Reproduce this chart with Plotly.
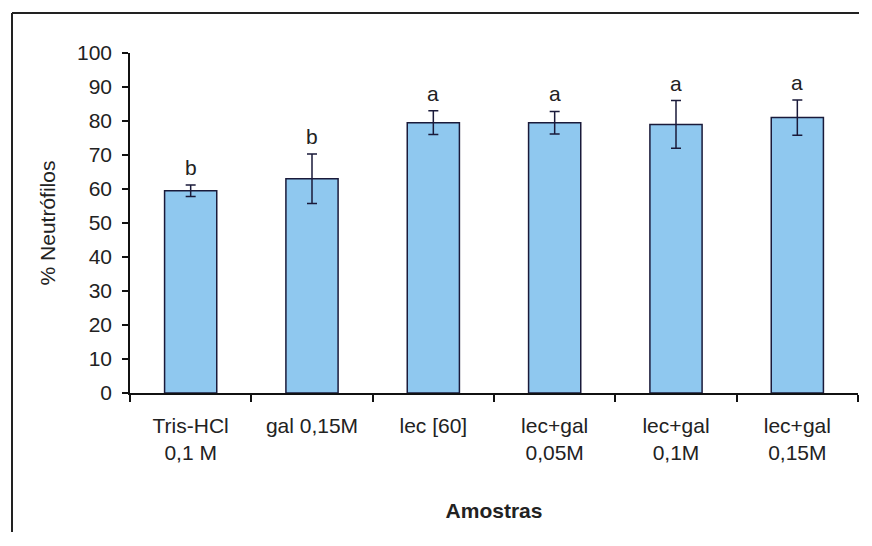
import plotly.graph_objects as go

categories = ["Tris-HCl<br>0,1 M", "gal 0,15M", "lec [60]", "lec+gal<br>0,05M", "lec+gal<br>0,1M", "lec+gal<br>0,15M"]
values = [59.5, 63.0, 79.5, 79.5, 79.0, 81.0]
errors = [1.7, 7.3, 3.5, 3.3, 7.0, 5.2]
letters = ["b", "b", "a", "a", "a", "a"]
y_ticks = [0, 10, 20, 30, 40, 50, 60, 70, 80, 90, 100]

# page body has an 8px margin, so the figure is sized to fit inside the window
W, H = 851, 524
L, R, T, B = 122, 1, 45, 139
pw, ph = W - L - R, H - T - B

FONT = "Liberation Sans, Arial, sans-serif"

fig = go.Figure()
fig.add_trace(go.Bar(
    x=categories, y=values, width=0.43,
    marker=dict(color="#8fc8ef", line=dict(color="#1a1a3a", width=1.5)),
    error_y=dict(type="data", array=errors, visible=True, color="#1a1a3a", thickness=1.5, width=5),
    showlegend=False,
))

for c, v, e, t in zip(categories, values, errors, letters):
    fig.add_annotation(x=c, y=v + e, text=t, showarrow=False, yanchor="bottom", yshift=4,
                       font=dict(family=FONT, size=21, color="#222"))

# outer chart frame: only its left and top edges lie inside the picture
fx0 = (4 - L) / pw
fx1 = (W - L) / pw
fy0 = (H - B - H) / ph
fy1 = (H - B - 5) / ph
frame = dict(type="line", xref="paper", yref="paper", line=dict(color="#222", width=2), layer="below")
fig.add_shape(x0=fx0, x1=fx0, y0=fy0, y1=fy1, **frame)
fig.add_shape(x0=fx0, x1=fx1, y0=fy1, y1=fy1, **frame)

fig.update_layout(
    width=W, height=H,
    margin=dict(l=L, r=R, t=T, b=B),
    paper_bgcolor="white", plot_bgcolor="white",
    font=dict(family=FONT, size=20, color="#222"),
    xaxis=dict(
        type="category", range=[-0.5, 5.5], showline=True, linecolor="#111", linewidth=1.5,
        ticks="outside", tickson="boundaries", ticklen=7, tickcolor="#111", tickwidth=1.5,
        tickfont=dict(family=FONT, size=21, color="#222"), ticklabelstandoff=13,
        showgrid=False, zeroline=False,
        title=dict(text="<b>Amostras</b>", font=dict(family=FONT, size=21, color="#222"), standoff=40),
    ),
    yaxis=dict(
        range=[0, 100], tickvals=y_ticks, showline=True, linecolor="#111", linewidth=1.5,
        ticks="outside", ticklen=6, tickcolor="#111", tickwidth=1.5,
        tickfont=dict(family=FONT, size=21, color="#222"), ticklabelstandoff=6,
        showgrid=False, zeroline=False,
        title=dict(text="% Neutrófilos", font=dict(family=FONT, size=21, color="#222"), standoff=16),
    ),
)

fig.write_html("out.html")
